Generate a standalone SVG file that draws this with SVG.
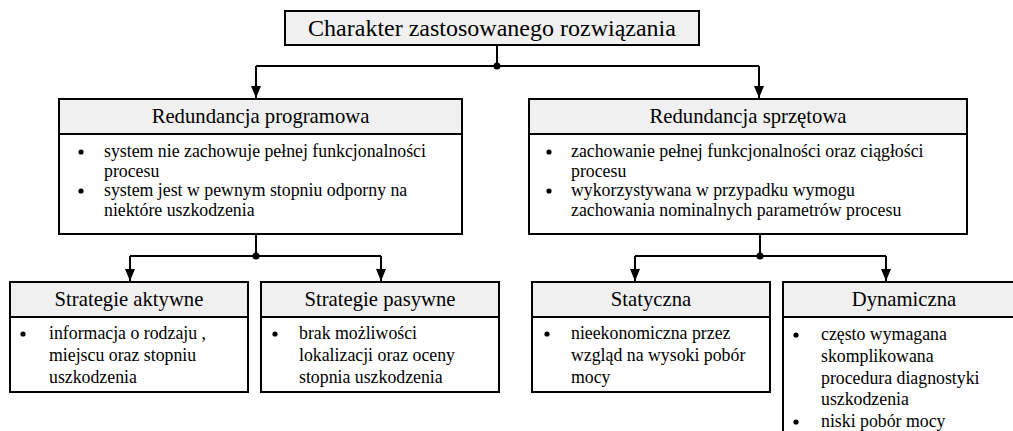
<svg xmlns="http://www.w3.org/2000/svg" width="1013" height="431" viewBox="0 0 1013 431">
<style>
.box{fill:#ffffff;stroke:#000;stroke-width:2}
.hdr{fill:#f0f0f0;stroke:#000;stroke-width:2}
text{font-family:'Liberation Serif','Times New Roman',serif;fill:#000}
.title{font-size:24px;text-anchor:middle}
.h{font-size:20.7px;text-anchor:middle}
.t{font-size:17.8px}
.ln{fill:none;stroke:#000;stroke-width:2}
</style>
<defs>
<marker id="arr" markerWidth="12" markerHeight="10" refX="12" refY="5" orient="auto" markerUnits="userSpaceOnUse">
<path d="M0,0 L12,5 L0,10 z" fill="#000"/>
</marker>
</defs>
<rect width="1013" height="431" fill="#fff"/>

<g id="connectors">
<path class="ln" d="M497,45 V66"/>
<path class="ln" d="M256,66 H759"/>
<path class="ln" d="M256,66 V98" marker-end="url(#arr)"/>
<path class="ln" d="M759,66 V98" marker-end="url(#arr)"/>
<circle cx="497" cy="66" r="3.5" fill="#000"/>

<path class="ln" d="M256,234 V256"/>
<path class="ln" d="M130,256 H381"/>
<path class="ln" d="M130,256 V281" marker-end="url(#arr)"/>
<path class="ln" d="M381,256 V281" marker-end="url(#arr)"/>
<circle cx="256" cy="256" r="3.5" fill="#000"/>

<path class="ln" d="M760,234 V256"/>
<path class="ln" d="M635,256 H886"/>
<path class="ln" d="M635,256 V281" marker-end="url(#arr)"/>
<path class="ln" d="M886,256 V281" marker-end="url(#arr)"/>
<circle cx="760" cy="256" r="3.5" fill="#000"/>
</g>

<g id="root">
<rect class="hdr" x="285" y="11" width="414" height="34"/>
<text class="title" x="492" y="36">Charakter zastosowanego rozwiązania</text>
</g>

<g id="programowa">
<rect class="box" x="59" y="99" width="403" height="135"/>
<rect class="hdr" x="59" y="99" width="403" height="35"/>
<text class="h" x="260.5" y="123">Redundancja programowa</text>
<circle cx="81" cy="152" r="2.6"/>
<circle cx="81" cy="191" r="2.6"/>
<text class="t" x="104" y="157">system nie zachowuje pełnej funkcjonalności</text>
<text class="t" x="104" y="177">procesu</text>
<text class="t" x="104" y="196">system jest w pewnym stopniu odporny na</text>
<text class="t" x="104" y="216">niektóre uszkodzenia</text>
</g>

<g id="sprzetowa">
<rect class="box" x="529" y="99" width="438" height="135"/>
<rect class="hdr" x="529" y="99" width="438" height="35"/>
<text class="h" x="748" y="123">Redundancja sprzętowa</text>
<circle cx="549" cy="152" r="2.6"/>
<circle cx="549" cy="191" r="2.6"/>
<text class="t" x="571" y="157">zachowanie pełnej funkcjonalności oraz ciągłości</text>
<text class="t" x="571" y="177">procesu</text>
<text class="t" x="571" y="196">wykorzystywana w przypadku wymogu</text>
<text class="t" x="571" y="216">zachowania nominalnych parametrów procesu</text>
</g>

<g id="aktywne">
<rect class="box" x="10" y="282" width="238" height="110"/>
<rect class="hdr" x="10" y="282" width="238" height="35"/>
<text class="h" x="129" y="306">Strategie aktywne</text>
<circle cx="23" cy="334" r="2.6"/>
<text class="t" x="49" y="339">informacja o rodzaju ,</text>
<text class="t" x="49" y="361">miejscu oraz stopniu</text>
<text class="t" x="49" y="383">uszkodzenia</text>
</g>

<g id="pasywne">
<rect class="box" x="261" y="282" width="238" height="110"/>
<rect class="hdr" x="261" y="282" width="238" height="35"/>
<text class="h" x="380" y="306">Strategie pasywne</text>
<circle cx="275" cy="334" r="2.6"/>
<text class="t" x="299" y="339">brak możliwości</text>
<text class="t" x="299" y="361">lokalizacji oraz oceny</text>
<text class="t" x="299" y="383">stopnia uszkodzenia</text>
</g>

<g id="statyczna">
<rect class="box" x="532" y="282" width="238" height="110"/>
<rect class="hdr" x="532" y="282" width="238" height="35"/>
<text class="h" x="651" y="306">Statyczna</text>
<circle cx="547" cy="334" r="2.6"/>
<text class="t" x="571" y="339">nieekonomiczna przez</text>
<text class="t" x="571" y="361">wzgląd na wysoki pobór</text>
<text class="t" x="571" y="383">mocy</text>
</g>

<g id="dynamiczna">
<rect class="box" x="783" y="282" width="242" height="160"/>
<rect class="hdr" x="783" y="282" width="242" height="35"/>
<text class="h" x="904" y="306">Dynamiczna</text>
<circle cx="796" cy="335" r="2.6"/>
<circle cx="796" cy="422" r="2.6"/>
<text class="t" x="821" y="340">często wymagana</text>
<text class="t" x="821" y="362">skomplikowana</text>
<text class="t" x="821" y="384">procedura diagnostyki</text>
<text class="t" x="821" y="405">uszkodzenia</text>
<text class="t" x="821" y="427">niski pobór mocy</text>
</g>
</svg>
